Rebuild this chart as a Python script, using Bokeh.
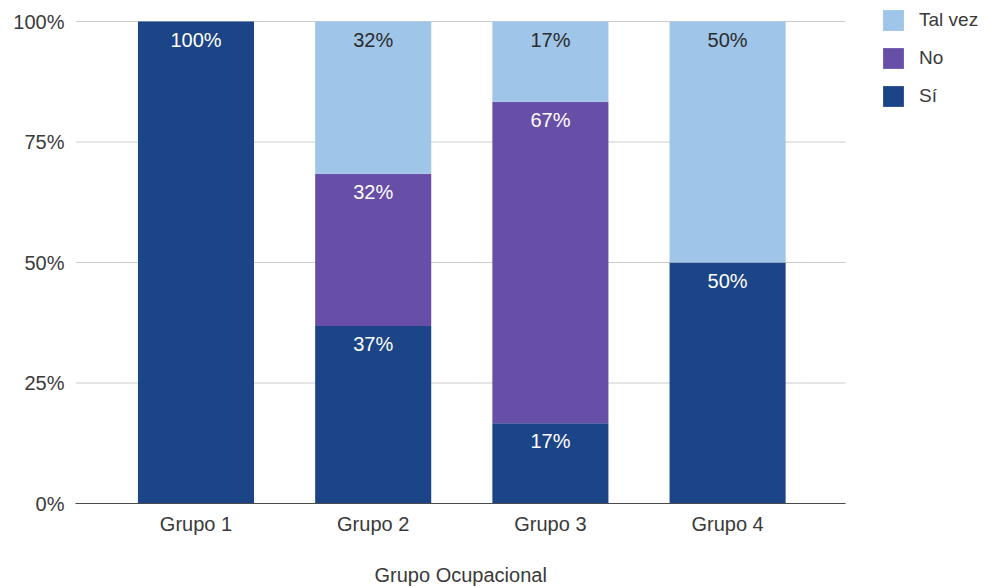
from bokeh.plotting import figure
from bokeh.models import (ColumnDataSource, Range1d, FixedTicker,
                          NumeralTickFormatter, Legend, LegendItem, Title)
from bokeh.core.properties import value
from bokeh.embed import file_html
from bokeh.resources import INLINE

# Occupational groups and answer shares (fractions of each group)
groups = ["Grupo 1", "Grupo 2", "Grupo 3", "Grupo 4"]
si = [1.0, 7 / 19, 1 / 6, 0.5]
no = [0.0, 6 / 19, 4 / 6, 0.0]
tal_vez = [0.0, 6 / 19, 1 / 6, 0.5]
y_ticks = [0, 0.25, 0.5, 0.75, 1.0]

series = ["si", "no", "tal_vez"]
series_names = ["Sí", "No", "Tal vez"]
colors = ["#1c4587", "#674ea7", "#9fc5e8"]
label_colors = ["#ffffff", "#ffffff", "#2b2b2b"]

FONT = "Liberation Sans"
TEXT_GRAY = "#3a3a3a"

# Layout geometry (pixels): plotting area is 770 px wide; the frame extends
# further right so the legend can sit beside the bars.
W, H = 987, 587
LEFT, BOTTOM = 75, 84
PLOT_W, PLOT_H = 770, 482
PX_PER_GROUP = 177.2
X_START = -0.68
X_END = X_START + (W - LEFT) / PX_PER_GROUP
X_PLOT_END = X_START + PLOT_W / PX_PER_GROUP
Y_END = (H - BOTTOM) / PLOT_H

xs = list(range(len(groups)))
source = ColumnDataSource(dict(x=xs, si=si, no=no, tal_vez=tal_vez))

p = figure(
    width=W, height=H,
    x_range=Range1d(X_START, X_END),
    y_range=Range1d(0, Y_END),
    output_backend="svg", toolbar_location=None,
    min_border_left=LEFT, min_border_right=0,
    min_border_top=0, min_border_bottom=BOTTOM,
)
p.outline_line_color = None
p.background_fill_color = "white"
p.border_fill_color = "white"

# Horizontal gridlines across the plotting area only
p.xgrid.grid_line_color = None
p.ygrid.grid_line_color = None
p.segment(x0=[X_START] * len(y_ticks), x1=[X_PLOT_END] * len(y_ticks),
          y0=y_ticks, y1=y_ticks, line_color="#cccccc", line_width=1)

renderers = p.vbar_stack(series, x="x", width=0.655, source=source,
                         color=colors, line_color=None)

# Value labels placed just below the top of each segment
lx, ly, lt, lc = [], [], [], []
for i, g in enumerate(groups):
    base = 0.0
    for vals, col in zip([si, no, tal_vez], label_colors):
        v = vals[i]
        if v > 0:
            lx.append(xs[i])
            ly.append(base + v)
            lt.append(f"{round(v * 100):d}%")
            lc.append(col)
        base += v
labels = ColumnDataSource(dict(x=lx, y=ly, text=lt, color=lc))
p.text(x="x", y="y", text="text", source=labels, text_color="color",
       text_align="center", text_baseline="middle", y_offset=18,
       text_font=value(FONT), text_font_size="20px")

# Axes
p.yaxis.ticker = FixedTicker(ticks=y_ticks)
p.yaxis.formatter = NumeralTickFormatter(format="0%")
p.yaxis.axis_line_color = None
p.yaxis.major_tick_line_color = None
p.yaxis.minor_tick_line_color = None
p.yaxis.major_label_standoff = 5
p.yaxis.major_label_text_font = FONT
p.yaxis.major_label_text_font_size = "20px"
p.yaxis.major_label_text_color = TEXT_GRAY

p.xaxis.ticker = FixedTicker(ticks=xs)
p.xaxis.major_label_overrides = {x: g for x, g in zip(xs, groups)}
p.xaxis.bounds = (X_START, X_PLOT_END)
p.xaxis.axis_line_color = "#4a4a4a"
p.xaxis.axis_line_width = 1
p.xaxis.major_tick_line_color = None
p.xaxis.minor_tick_line_color = None
p.xaxis.major_label_standoff = 3
p.xaxis.major_label_text_font = FONT
p.xaxis.major_label_text_font_size = "20px"
p.xaxis.major_label_text_color = TEXT_GRAY

# Axis title, centred under the plotting area
p.add_layout(Title(text="Grupo Ocupacional", align="left", offset=299,
                   standoff=0, vertical_align="bottom",
                   padding=dict(left=0, right=0, top=24, bottom=0),
                   text_font=FONT, text_font_size="20px",
                   text_font_style="normal", text_color=TEXT_GRAY), "below")

# Legend beside the bars, listed top-down as Tal vez, No, Sí
items = [LegendItem(label=n, renderers=[r])
         for n, r in zip(series_names, renderers)][::-1]
legend = Legend(items=items, location=(805, 394),
                glyph_width=26, glyph_height=26, label_standoff=13,
                label_height=20, spacing=12, padding=0, margin=0,
                border_line_color=None, background_fill_alpha=0,
                label_text_font=FONT, label_text_font_size="19px",
                label_text_color=TEXT_GRAY)
p.add_layout(legend, "center")

open("out.html", "w").write(file_html(p, INLINE))
